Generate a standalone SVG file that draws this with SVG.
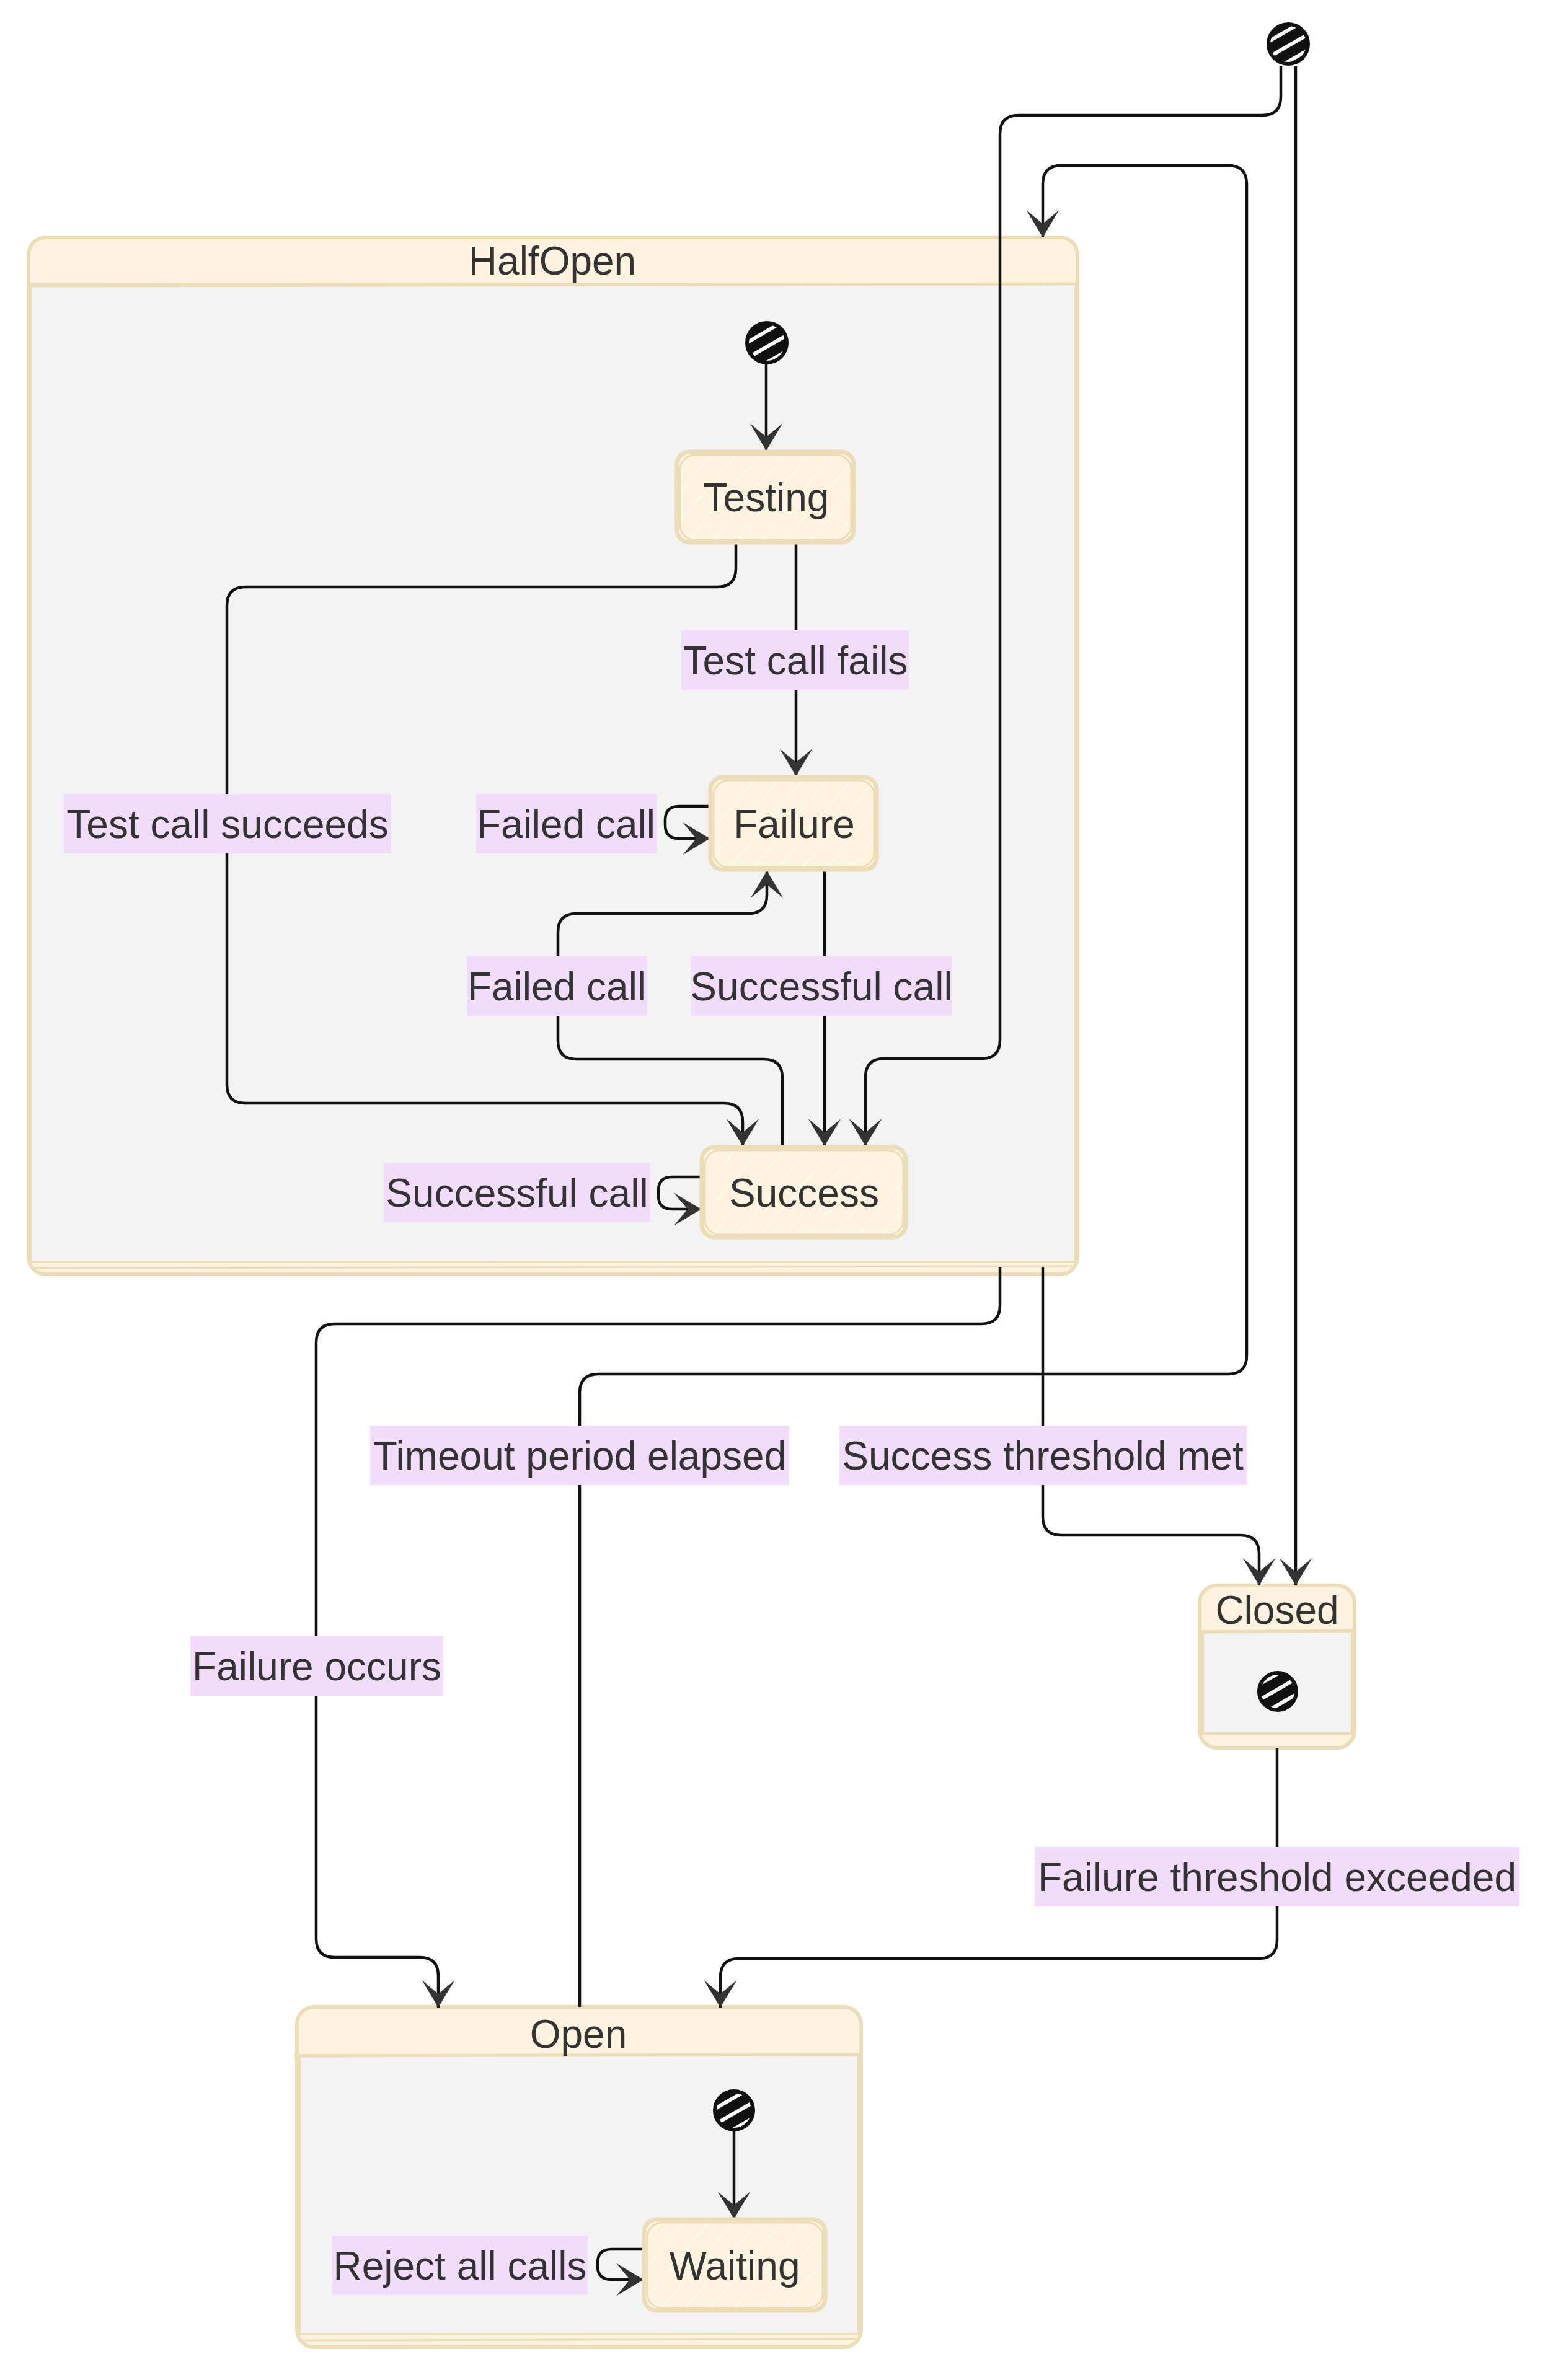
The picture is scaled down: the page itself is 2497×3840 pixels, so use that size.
<svg xmlns="http://www.w3.org/2000/svg" width="2497" height="3840" viewBox="0 0 2497 3840">
<defs>
<style>
.cl-outer{fill:#fdf3de;stroke:#ecdcb8;stroke-width:6}
.cl-body{fill:#f3f3f3;stroke:#ecdcb8;stroke-width:4}
.cl-line{fill:none;stroke:#ecdcb8;stroke-width:5}
.node{fill:url(#nodefill);stroke:#ecdcb8;stroke-width:7}
.rough{fill:none;stroke:#ecdcb8;stroke-width:3}
.edge{fill:none;stroke:#111;stroke-width:4.5;marker-end:url(#arr)}
.lbl-bg{fill:#f2dcfc}
.txt{font-family:"Liberation Sans",Arial,Helvetica,sans-serif;font-size:64px;fill:#333;text-anchor:middle}
.start{fill:url(#hatch);stroke:#111;stroke-width:6}
</style>
<marker id="arr" viewBox="0 0 20 14" refX="19" refY="7" markerUnits="userSpaceOnUse" markerWidth="88" markerHeight="62" orient="auto">
<path d="M19,7 L9,13 L14,7 L9,1 Z" fill="#333"/>
</marker>
<pattern id="hatch" patternUnits="userSpaceOnUse" width="22" height="22" patternTransform="rotate(-30)">
<rect width="22" height="22" fill="#111"/>
<rect y="0" width="22" height="6" fill="#fff"/>
</pattern>
<pattern id="nodefill" patternUnits="userSpaceOnUse" width="30" height="30" patternTransform="rotate(-50)">
<rect width="30" height="30" fill="#fdf3de"/>
<rect y="0" width="30" height="2" fill="#ffffff" opacity="0.55"/>
</pattern>
</defs>
<rect width="2497" height="3840" fill="#ffffff"/>

<g id="HalfOpen">
<rect class="cl-outer" x="46" y="383" width="1692" height="1673" rx="28"/>
<rect class="cl-body" x="49" y="458" width="1686" height="1578"/>
<path class="cl-line" d="M44,461 L1740,458"/>
<path class="rough" d="M52,2046 L1730,2043"/>
<text class="txt" x="891" y="443">HalfOpen</text>
</g>

<g id="Closed">
<rect class="cl-outer" x="1935" y="2558" width="250" height="262" rx="28"/>
<rect class="cl-body" x="1940" y="2632" width="241" height="165"/>
<path class="cl-line" d="M1933,2633 L2187,2631"/>
<text class="txt" x="2060" y="2620">Closed</text>
<circle class="start" cx="2061" cy="2729" r="30"/>
</g>

<g id="Open">
<rect class="cl-outer" x="479" y="3238" width="910" height="549" rx="28"/>
<rect class="cl-body" x="483" y="3316" width="902" height="450"/>
<path class="cl-line" d="M475,3317 L1392,3315"/>
<path class="rough" d="M486,3776 L1380,3774"/>
<text class="txt" x="933" y="3304">Open</text>
</g>

<g id="connectors">
<path id="e-start-success" class="edge" d="M2066,106 L2066,156 Q2066,186 2036,186 L1643,186 Q1613,186 1613,216 L1613,1678 Q1613,1708 1583,1708 L1426,1708 Q1396,1708 1396,1738 L1396,1849"/>
<path id="e-start-closed" class="edge" d="M2090,106 L2090,2558"/>
<path id="e-hstart-testing" class="edge" d="M1236,586 L1236,727"/>
<path id="e-testing-failure" class="edge" d="M1284,875 L1284,1252"/>
<path id="e-testing-success" class="edge" d="M1187,875 L1187,917 Q1187,947 1157,947 L396,947 Q366,947 366,977 L366,1750 Q366,1780 396,1780 L1168,1780 Q1198,1780 1198,1810 L1198,1849"/>
<path id="e-failure-self" class="edge" d="M1146,1301 L1095,1301 Q1073,1301 1073,1323 L1073,1331 Q1073,1353 1095,1353 L1145,1353"/>
<path id="e-success-failure" class="edge" d="M1262,1850 L1262,1739 Q1262,1709 1232,1709 L930,1709 Q900,1709 900,1679 L900,1504 Q900,1474 930,1474 L1207,1474 Q1237,1474 1237,1444 L1237,1405"/>
<path id="e-failure-success" class="edge" d="M1330,1403 L1330,1849"/>
<path id="e-success-self" class="edge" d="M1132,1899 L1084,1899 Q1062,1899 1062,1921 L1062,1929 Q1062,1951 1084,1951 L1131,1951"/>
<path id="e-halfopen-open" class="edge" d="M1613,2045 L1613,2106 Q1613,2136 1583,2136 L540,2136 Q510,2136 510,2166 L510,3128 Q510,3158 540,3158 L677,3158 Q707,3158 707,3188 L707,3239"/>
<path id="e-open-halfopen" class="edge" d="M935,3238 L935,2247 Q935,2217 965,2217 L1981,2217 Q2011,2217 2011,2187 L2011,297 Q2011,267 1981,267 L1712,267 Q1682,267 1682,297 L1682,383"/>
<path id="e-halfopen-closed" class="edge" d="M1682,2045 L1682,2447 Q1682,2477 1712,2477 L2001,2477 Q2031,2477 2031,2507 L2031,2558"/>
<path id="e-closed-open" class="edge" d="M2060,2820 L2060,3130 Q2060,3160 2030,3160 L1192,3160 Q1162,3160 1162,3190 L1162,3239"/>
<path id="e-ostart-waiting" class="edge" d="M1184,3438 L1184,3580"/>
<path id="e-waiting-self" class="edge" d="M1039,3629 L986,3629 Q964,3629 964,3651 L964,3656 Q964,3678 986,3678 L1038,3678"/>
</g>

<g id="edge-labels">
<rect class="lbl-bg" x="1099" y="1017" width="367" height="96"/>
<text class="txt" x="1283" y="1088">Test call fails</text>
<rect class="lbl-bg" x="103" y="1281" width="528" height="96"/>
<text class="txt" x="367" y="1352">Test call succeeds</text>
<rect class="lbl-bg" x="768" y="1281" width="291" height="96"/>
<text class="txt" x="913" y="1352">Failed call</text>
<rect class="lbl-bg" x="753" y="1543" width="291" height="96"/>
<text class="txt" x="898" y="1614">Failed call</text>
<rect class="lbl-bg" x="1115" y="1543" width="421" height="96"/>
<text class="txt" x="1325" y="1614">Successful call</text>
<rect class="lbl-bg" x="619" y="1876" width="430" height="96"/>
<text class="txt" x="834" y="1947">Successful call</text>
<rect class="lbl-bg" x="597" y="2300" width="676" height="96"/>
<text class="txt" x="935" y="2371">Timeout period elapsed</text>
<rect class="lbl-bg" x="1354" y="2300" width="657" height="96"/>
<text class="txt" x="1682" y="2371">Success threshold met</text>
<rect class="lbl-bg" x="307" y="2640" width="408" height="96"/>
<text class="txt" x="511" y="2711">Failure occurs</text>
<rect class="lbl-bg" x="1669" y="2980" width="782" height="96"/>
<text class="txt" x="2060" y="3051">Failure threshold exceeded</text>
<rect class="lbl-bg" x="536" y="3607" width="412" height="96"/>
<text class="txt" x="742" y="3678">Reject all calls</text>
</g>

<g id="start-root">
<circle class="start" cx="2078" cy="71" r="32"/>
</g>
<g id="start-halfopen">
<circle class="start" cx="1237" cy="553" r="32"/>
</g>
<g id="start-open">
<circle class="start" cx="1184" cy="3405" r="31"/>
</g>

<g id="Testing">
<rect class="node" x="1092" y="729" width="285" height="146" rx="20"/>
<rect class="rough" x="1097" y="734" width="276" height="137" rx="24"/>
<text class="txt" x="1236" y="825">Testing</text>
</g>
<g id="Failure">
<rect class="node" x="1146" y="1254" width="268" height="149" rx="20"/>
<rect class="rough" x="1151" y="1259" width="259" height="140" rx="24"/>
<text class="txt" x="1281" y="1352">Failure</text>
</g>
<g id="Success">
<rect class="node" x="1132" y="1851" width="329" height="145" rx="20"/>
<rect class="rough" x="1137" y="1856" width="320" height="136" rx="24"/>
<text class="txt" x="1297" y="1947">Success</text>
</g>
<g id="Waiting">
<rect class="node" x="1039" y="3581" width="292" height="147" rx="20"/>
<rect class="rough" x="1044" y="3586" width="283" height="138" rx="24"/>
<text class="txt" x="1185" y="3678">Waiting</text>
</g>
</svg>
